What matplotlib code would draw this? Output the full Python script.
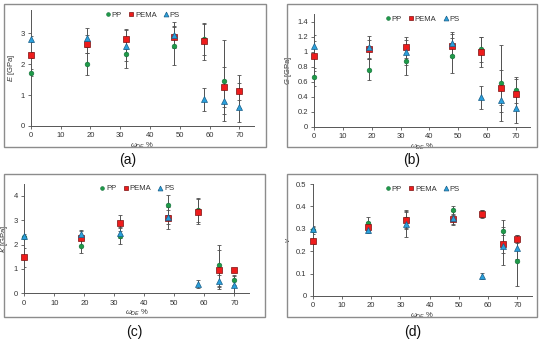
import matplotlib
matplotlib.use("Agg")
import matplotlib.pyplot as plt
from matplotlib.lines import Line2D
from matplotlib.patches import Rectangle
from matplotlib.ticker import FuncFormatter

plt.rcParams['font.family'] = ['Liberation Sans', 'DejaVu Sans']
plt.rcParams['mathtext.fontset'] = 'custom'
plt.rcParams['mathtext.rm'] = 'Liberation Sans'
plt.rcParams['mathtext.it'] = 'Liberation Sans:italic'

# ---------------- data ----------------
x = [0, 19, 32, 48, 58, 65, 70]

E_PP = [1.73, 2.00, 2.33, 2.59, 2.80, 1.47, 1.12]
E_PEMA = [2.29, 2.66, 2.81, 2.89, 2.74, 1.27, 1.12]
E_PS = [2.82, 2.86, 2.60, 2.95, 0.86, 0.82, 0.62]
E_PP_err = [0.10, 0.35, 0.45, 0.62, 0.50, 1.30, 0.28]
E_PEMA_err = [0.10, 0.30, 0.33, 0.35, 0.60, 0.65, 0.53]
E_PS_err = [0.10, 0.30, 0.50, 0.42, 0.36, 0.42, 0.50]

G_PP = [0.66, 0.76, 0.876, 0.947, 1.03, 0.58, 0.49]
G_PEMA = [0.947, 1.03, 1.06, 1.08, 1.00, 0.52, 0.44]
G_PS = [1.08, 1.06, 0.99, 1.11, 0.39, 0.36, 0.25]
G_PP_err = [0.12, 0.14, 0.18, 0.23, 0.17, 0.51, 0.17]
G_PEMA_err = [0.20, 0.13, 0.14, 0.15, 0.20, 0.23, 0.20]
G_PS_err = [0.14, 0.15, 0.17, 0.15, 0.15, 0.16, 0.20]

K_PP = [2.30, 1.96, 2.37, 3.64, 3.42, 1.16, 0.55]
K_PEMA = [1.48, 2.26, 2.90, 3.08, 3.36, 0.96, 0.96]
K_PS = [2.37, 2.44, 2.47, 3.14, 0.38, 0.52, 0.36]
K_PP_err = [0.05, 0.30, 0.35, 0.42, 0.50, 0.84, 0.20]
K_PEMA_err = [0.38, 0.30, 0.32, 0.45, 0.50, 0.80, 0.05]
K_PS_err = [0.05, 0.15, 0.20, 0.30, 0.15, 0.25, 0.35]

v_PP = [0.293, 0.324, 0.342, 0.384, 0.369, 0.290, 0.158]
v_PEMA = [0.244, 0.310, 0.339, 0.342, 0.365, 0.232, 0.253]
v_PS = [0.299, 0.295, 0.320, 0.348, 0.091, 0.223, 0.213]
v_PP_err = [0.015, 0.030, 0.040, 0.018, 0.015, 0.048, 0.113]
v_PEMA_err = [0.010, 0.020, 0.040, 0.020, 0.017, 0.040, 0.018]
v_PS_err = [0.015, 0.015, 0.055, 0.030, 0.013, 0.085, 0.050]

series_names = ['PP', 'PEMA', 'PS']
xticks = [0, 10, 20, 30, 40, 50, 60, 70]

# ---------------- style ----------------
W, H = 550, 343
fig = plt.figure(figsize=(5.5, 3.43), dpi=100)

styles = {
    'PP': dict(marker='o', color='#1f9a48', mec='#13703a', ms=3.4, mew=0.4),
    'PEMA': dict(marker='s', color='#ee1c1c', mec='#7a1010', ms=4.4, mew=0.5),
    'PS': dict(marker='^', color='#2aa0dc', mec='#1a5e88', ms=4.4, mew=0.5),
}

def rect(l, r, t, b):
    return [l / W, 1 - b / H, (r - l) / W, (b - t) / H]

panels = [
    dict(ax=rect(30.7, 254.2, 10.1, 126.0), box=(4, 266, 4, 147), lab=('(a)', 128, 160),
         ylim=3.75, yticks=[0, 1, 2, 3], ylabel=r'$E$ [GPa]',
         data=[(E_PP, E_PP_err), (E_PEMA, E_PEMA_err), (E_PS, E_PS_err)]),
    dict(ax=rect(314.3, 530.1, 14.2, 126.7), box=(287, 537, 4, 147), lab=('(b)', 412, 160),
         ylim=1.5, yticks=[0, 0.2, 0.4, 0.6, 0.8, 1, 1.2, 1.4], ylabel=r'$G$ [GPa]',
         data=[(G_PP, G_PP_err), (G_PEMA, G_PEMA_err), (G_PS, G_PS_err)]),
    dict(ax=rect(24.3, 249.3, 183.8, 293.3), box=(4, 265, 174, 317), lab=('(c)', 134, 332),
         ylim=4.5, yticks=[0, 1, 2, 3, 4], ylabel=r'$K$ [GPa]',
         data=[(K_PP, K_PP_err), (K_PEMA, K_PEMA_err), (K_PS, K_PS_err)]),
    dict(ax=rect(312.7, 532.0, 184.0, 296.0), box=(287, 537, 174, 317), lab=('(d)', 413, 332),
         ylim=0.5, yticks=[0, 0.1, 0.2, 0.3, 0.4, 0.5], ylabel=r'$v$',
         data=[(v_PP, v_PP_err), (v_PEMA, v_PEMA_err), (v_PS, v_PS_err)]),
]

fmt = FuncFormatter(lambda v, p: '%g' % v)
axis_col = '#555555'

for p in panels:
    l, r, t, b = p['box']
    fig.add_artist(Rectangle((l / W, 1 - b / H), (r - l) / W, (b - t) / H,
                             transform=fig.transFigure, fill=False,
                             edgecolor='#8c8c8c', linewidth=1.0))
    fig.text(p['lab'][1] / W, 1 - p['lab'][2] / H, p['lab'][0], ha='center', va='center',
             fontsize=10, color='#111111', fontweight='medium')
    ax = fig.add_axes(p['ax'])
    for name, (vals, errs) in zip(series_names, p['data']):
        ax.errorbar(x, vals, yerr=errs, fmt='none', ecolor='#505050', elinewidth=0.7,
                    capsize=1.6, capthick=0.6, zorder=2)
    for name, (vals, errs) in zip(series_names, p['data']):
        st = styles[name]
        ax.plot(x, vals, linestyle='none', marker=st['marker'], color=st['color'],
                mec=st['mec'], ms=st['ms'], mew=st['mew'], zorder=3, clip_on=False)
    ax.set_xlim(0, 75)
    ax.set_ylim(0, p['ylim'])
    ax.set_xticks(xticks)
    ax.set_yticks(p['yticks'])
    ax.yaxis.set_major_formatter(fmt)
    for s in ['top', 'right']:
        ax.spines[s].set_visible(False)
    for s in ['left', 'bottom']:
        ax.spines[s].set_color(axis_col)
        ax.spines[s].set_linewidth(0.7)
    ax.tick_params(axis='both', labelsize=5.5, colors='#333333', length=2, width=0.6,
                   pad=2.5, direction='out')
    ax.tick_params(axis='both', color=axis_col)
    ax.set_ylabel(p['ylabel'], fontsize=5.5, color='#333333', labelpad=2.5)
    ax.set_xlabel(r'$\omega_{DE}$ %', fontsize=5.5, color='#333333', labelpad=1)
    ax.patch.set_alpha(0)
    handles = [Line2D([], [], linestyle='none', marker=styles[n]['marker'],
                      color=styles[n]['color'], mec=styles[n]['mec'],
                      ms=styles[n]['ms'] * 0.8, mew=styles[n]['mew'])
               for n in series_names]
    ax.legend(handles, series_names, loc='upper center', bbox_to_anchor=(0.5, 1.03),
              ncol=3, frameon=False, fontsize=5.5, handlelength=0.8, handletextpad=0.1,
              columnspacing=0.8, borderaxespad=0.2, labelcolor='#333333')

fig.savefig('out.png', dpi=100)
